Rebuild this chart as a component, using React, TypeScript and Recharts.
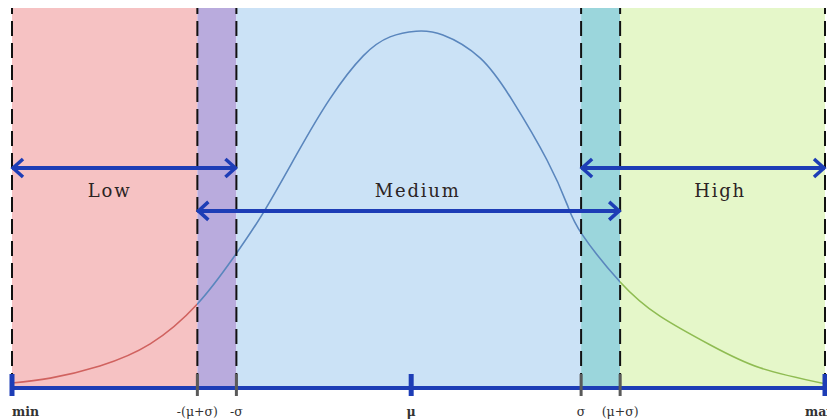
import React from 'react';
import {
  ComposedChart,
  Line,
  XAxis,
  YAxis,
  ReferenceArea,
  ReferenceLine,
  ReferenceDot,
} from 'recharts';

// Positions along the range, min = 0 and max = 100
const boundaryX = [0, 22.8, 27.6, 49.1, 70.0, 74.8, 100];
const boundaryLabels = ['min', '-(μ+σ)', '-σ', 'μ', 'σ', '(μ+σ)', 'max'];

// Dashed edges of the bands (no edge at the mean)
const edgeX = [0, 22.8, 27.6, 70.0, 74.8, 100];

// Shaded bands between the boundaries
const bandStart = [0, 22.8, 27.6, 70.0, 74.8];
const bandEnd = [22.8, 27.6, 70.0, 74.8, 100];

// Bell curve samples (relative density)
const curveX = [0, 4.7, 10.8, 17.0, 22.8, 27.2, 30.9, 35.1, 39.1, 43.2, 46.5, 49.7, 53.0, 57.6, 61.6, 65.8, 68.3, 70.1, 74.8, 79.7, 85.9, 92.0, 100];
const curveY = [0.013, 0.026, 0.058, 0.116, 0.221, 0.342, 0.461, 0.618, 0.761, 0.874, 0.924, 0.939, 0.929, 0.868, 0.755, 0.6, 0.482, 0.405, 0.279, 0.189, 0.113, 0.053, 0.011];

// Fuzzy ranges drawn as double arrows
const rangeNames = ['Low', 'Medium', 'High'];
const rangeFrom = [0, 22.8, 70.0];
const rangeTo = [27.6, 74.8, 100];
const rangeLevel = [0.579, 0.466, 0.579];
const rangeLabelX = [12.0, 49.9, 87.1];
const rangeLabelY = 0.521;

// Where the curve colour switches (share of the x range)
const LOW_END = 22.8;
const HIGH_START = 74.8;

const BAND_FILLS = ['#f6c2c3', '#b9abdd', '#cbe2f6', '#9bd6dc', '#e5f7c9'];
const CURVE_COLORS = ['#d0625f', '#5a86bd', '#8fbc52'];
const ARROW_BLUE = '#1d3db6';
const SERIF = '"DejaVu Serif", "Liberation Serif", serif';

const chartData = curveX.map((x, i) => ({ x, density: curveY[i] }));

const DoubleArrow = (props: any) => {
  const { x1, y1, x2, y2 } = props;
  const head = 11;
  const spread = 9;
  return (
    <g>
      <line x1={x1} y1={y1} x2={x2} y2={y2} stroke={ARROW_BLUE} strokeWidth={4} />
      <polyline
        points={`${x1 + head},${y1 - spread} ${x1 + 1},${y1} ${x1 + head},${y1 + spread}`}
        fill="none"
        stroke={ARROW_BLUE}
        strokeWidth={3.5}
      />
      <polyline
        points={`${x2 - head},${y2 - spread} ${x2 - 1},${y2} ${x2 - head},${y2 + spread}`}
        fill="none"
        stroke={ARROW_BLUE}
        strokeWidth={3.5}
      />
    </g>
  );
};

const BoundaryTick = (props: any) => {
  const { x, y, payload, index } = props;
  const label = boundaryLabels[index];
  const emphasised = label === 'min' || label === 'max' || label === 'μ';
  let anchor: 'start' | 'middle' | 'end' = 'middle';
  let dx = 0;
  if (label === 'min') anchor = 'start';
  if (label === 'max') {
    anchor = 'start';
    dx = -20;
  }
  return (
    <g>
      <line
        x1={x}
        y1={y - 14}
        x2={x}
        y2={y + 8}
        stroke={emphasised ? ARROW_BLUE : '#5a5a5a'}
        strokeWidth={emphasised ? 5 : 3}
      />
      <text
        x={x + dx}
        y={y + 28}
        textAnchor={anchor}
        fontFamily={SERIF}
        fontSize={12.5}
        fontWeight={emphasised ? 'bold' : 'normal'}
        fill="#333"
      >
        {label ?? payload.value}
      </text>
    </g>
  );
};

const RangeLabel = (props: any) => {
  const { cx, cy, name } = props;
  return (
    <text
      x={cx}
      y={cy}
      textAnchor="middle"
      dominantBaseline="central"
      fontFamily={SERIF}
      fontSize={18}
      letterSpacing={1.8}
      fill="#2c2424"
    >
      {name}
    </text>
  );
};

export default function App() {
  return (
    <div style={{ position: 'absolute', left: 0, top: 0, width: 827, height: 420, background: '#fff', overflow: 'hidden' }}>
      <ComposedChart
        width={827}
        height={420}
        data={chartData}
        margin={{ top: 8, right: 2, bottom: 0, left: 12 }}
      >
        <defs>
          {/* hard colour stops so the curve changes colour at the band edges */}
          <linearGradient id="curveStroke" x1="0" y1="0" x2="1" y2="0">
            <stop offset={0} stopColor={CURVE_COLORS[0]} />
            <stop offset={LOW_END / 100} stopColor={CURVE_COLORS[0]} />
            <stop offset={LOW_END / 100} stopColor={CURVE_COLORS[1]} />
            <stop offset={HIGH_START / 100} stopColor={CURVE_COLORS[1]} />
            <stop offset={HIGH_START / 100} stopColor={CURVE_COLORS[2]} />
            <stop offset={1} stopColor={CURVE_COLORS[2]} />
          </linearGradient>
        </defs>
        <XAxis
          dataKey="x"
          type="number"
          domain={[0, 100]}
          ticks={boundaryX}
          interval={0}
          height={32}
          tickSize={0}
          tickMargin={0}
          tickLine={false}
          axisLine={{ stroke: ARROW_BLUE, strokeWidth: 4 }}
          tick={<BoundaryTick />}
        />
        <YAxis hide domain={[0, 1]} />

        {bandStart.map((start, i) => (
          <ReferenceArea
            key={`band-${i}`}
            x1={start}
            x2={bandEnd[i]}
            fill={BAND_FILLS[i]}
            fillOpacity={1}
            strokeOpacity={0}
          />
        ))}

        <Line
          dataKey="density"
          type="natural"
          stroke="url(#curveStroke)"
          strokeWidth={1.6}
          dot={false}
          isAnimationActive={false}
        />

        {edgeX.map((bx) => (
          <ReferenceLine
            key={`edge-${bx}`}
            x={bx}
            stroke="#111"
            strokeWidth={2}
            strokeDasharray="15 7"
            ifOverflow="visible"
          />
        ))}

        {rangeNames.map((name, i) => (
          <ReferenceLine
            key={`arrow-${name}`}
            segment={[
              { x: rangeFrom[i], y: rangeLevel[i] },
              { x: rangeTo[i], y: rangeLevel[i] },
            ]}
            ifOverflow="visible"
            shape={<DoubleArrow />}
          />
        ))}

        {rangeNames.map((name, i) => (
          <ReferenceDot
            key={`label-${name}`}
            x={rangeLabelX[i]}
            y={rangeLabelY}
            r={0}
            ifOverflow="visible"
            shape={<RangeLabel name={name} />}
          />
        ))}
      </ComposedChart>
    </div>
  );
}
